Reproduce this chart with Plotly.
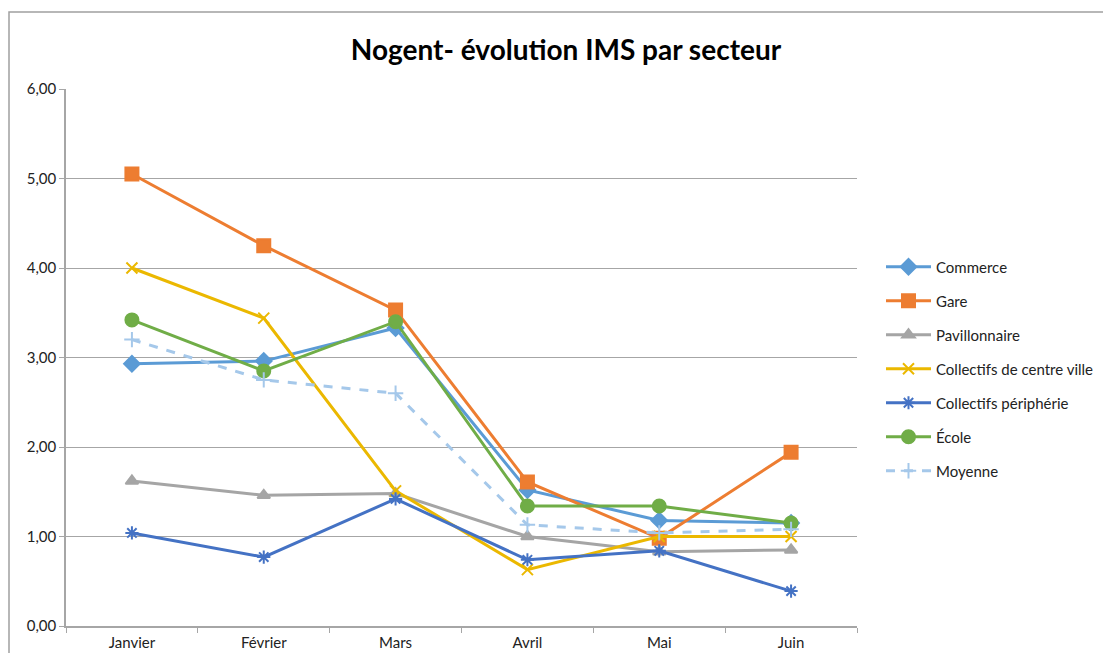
import plotly.graph_objects as go

months = ["Janvier", "Février", "Mars", "Avril", "Mai", "Juin"]
commerce = [2.93, 2.96, 3.33, 1.52, 1.18, 1.15]
gare = [5.05, 4.25, 3.53, 1.61, 0.98, 1.94]
pavillonnaire = [1.62, 1.46, 1.48, 1.00, 0.83, 0.85]
centre_ville = [4.00, 3.44, 1.51, 0.63, 1.00, 1.00]
peripherie = [1.04, 0.77, 1.42, 0.74, 0.84, 0.39]
ecole = [3.42, 2.85, 3.40, 1.34, 1.34, 1.15]
moyenne = [3.20, 2.75, 2.60, 1.13, 1.04, 1.08]
y_ticks = [0, 1, 2, 3, 4, 5, 6]

series = [
    ("Commerce", commerce, "#5B9BD5", "diamond", 12, "solid"),
    ("Gare", gare, "#ED7D31", "square", 13, "solid"),
    ("Pavillonnaire", pavillonnaire, "#A5A5A5", "triangle-up", 11, "solid"),
    ("Collectifs de centre ville", centre_ville, "#EBB800", "x-thin-open", 11, "solid"),
    ("Collectifs périphérie", peripherie, "#4472C4", "asterisk-open", 11, "solid"),
    ("École", ecole, "#70AD47", "circle", 13, "solid"),
    ("Moyenne", moyenne, "#A5C8EA", "cross-thin-open", 11, "dash"),
]

fig = go.Figure()
for i, (name, vals, color, sym, size, dash) in enumerate(series):
    fig.add_trace(go.Scatter(
        x=months, y=vals, name=name, mode="lines+markers",
        line=dict(color=color, width=3, dash=dash),
        marker=dict(symbol=sym, size=size, color=color,
                    line=dict(color=color, width=2)),
        legendgroup=f"g{i}",
    ))

# page body has an 8px margin on every side; keep the figure inside the window
OFF = 8
W, H = 1111 - 2 * OFF, 661 - 2 * OFF
L = 66 - OFF
T = 89 - OFF
R = W - (857 - OFF)
B = H - (626 - OFF)
pw, ph = W - L - R, H - T - B

def px(x):
    return (x - OFF - L) / pw

def py(y):
    return (H - B - (y - OFF)) / ph

fig.update_layout(
    width=W, height=H,
    margin=dict(l=L, r=R, t=T, b=B, autoexpand=False),
    paper_bgcolor="white", plot_bgcolor="white",
    separators=", ",
    font=dict(family="Lato, Open Sans, sans-serif", size=15, color="#222"),
    title=dict(text="<b>Nogent- évolution IMS par secteur</b>",
               x=(566 - OFF) / W, xanchor="center", y=1 - (50 - OFF) / H, yanchor="middle",
               font=dict(size=28, family="Lato, sans-serif", color="#000")),
    legend=dict(xref="container", x=(881 - OFF) / W, xanchor="left",
                y=py(369), yanchor="middle",
                font=dict(size=15), tracegroupgap=11.5, itemwidth=45,
                bgcolor="rgba(0,0,0,0)"),
    xaxis=dict(type="category", range=[-0.5, 5.5], tickson="boundaries",
               ticks="outside", ticklen=5, tickcolor="#A6A6A6",
               showline=True, linecolor="#A6A6A6", linewidth=1.5,
               showgrid=False, tickfont=dict(size=15), automargin=False,
               ticklabelstandoff=2),
    yaxis=dict(range=[0, 6], tickvals=y_ticks, tickformat=".2f",
               ticks="outside", ticklen=5, tickcolor="#A6A6A6",
               showline=True, linecolor="#A6A6A6", linewidth=1.5,
               showgrid=True, gridcolor="#A6A6A6", gridwidth=1,
               zeroline=False, tickfont=dict(size=15), automargin=False),
    shapes=[dict(type="rect", xref="paper", yref="paper",
                 x0=px(9), x1=px(1140),
                 y0=py(690), y1=py(12),
                 line=dict(color="#A0A0A0", width=1.5), layer="below")],
)

fig.write_html("out.html")
